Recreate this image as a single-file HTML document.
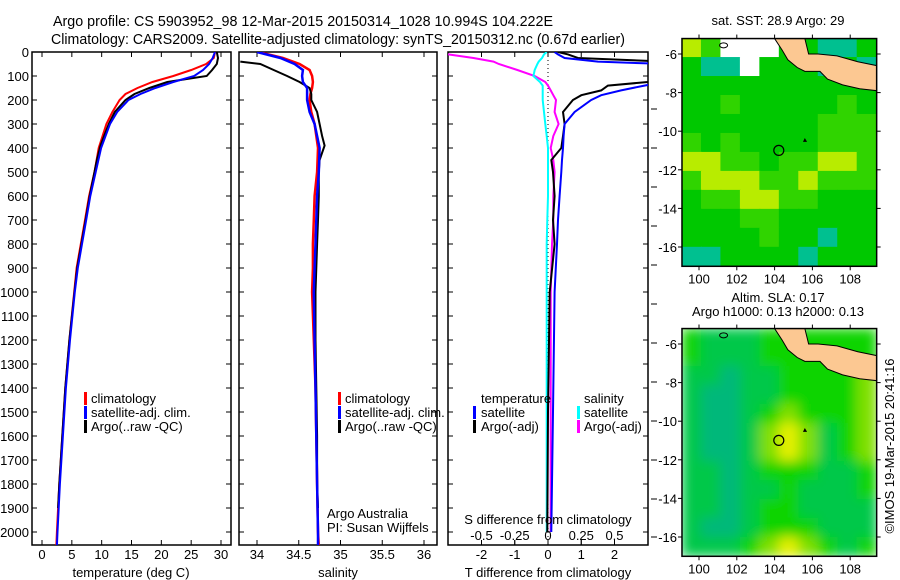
<!DOCTYPE html>
<html><head><meta charset="utf-8"><style>
html,body{margin:0;padding:0;background:#fff;}
svg{display:block;font-family:"Liberation Sans",sans-serif;}
</style></head><body>
<svg id="fig" width="900" height="580" viewBox="0 0 900 580" xmlns="http://www.w3.org/2000/svg">
<text x="53" y="26" font-size="15" textLength="500" lengthAdjust="spacingAndGlyphs">Argo profile: CS 5903952_98 12-Mar-2015 20150314_1028 10.994S 104.222E</text>
<text x="51" y="44" font-size="15" textLength="574" lengthAdjust="spacingAndGlyphs">Climatology: CARS2009. Satellite-adjusted climatology: synTS_20150312.nc (0.67d earlier)</text>
<g id="g"></g>
</svg>
<script>
// ---------- data ----------
const depthTicks = [0,100,200,300,400,500,600,700,800,900,1000,1100,1200,1300,1400,1500,1600,1700,1800,1900,2000];
const tempTicks = [0,5,10,15,20,25,30];
const salTicks = [34,34.5,35,35.5,36];
const salTickLabels = ["34","34.5","35","35.5","36"];
const tdiffTicks = [-2,-1,0,1,2];
const sdiffTicks = [-0.5,-0.25,0,0.25,0.5];
const sdiffTickLabels = ["-0.5","-0.25","0","0.25","0.5"];

const climDepth = [0,25,50,75,100,125,150,175,200,250,300,400,500,600,700,800,900,1000,1200,1400,1600,1800,2000,2058];
const climTemp  = [29.0,28.8,27.5,25,22,18.5,16,14,13,11.8,10.8,9.5,8.8,7.9,7.2,6.5,5.8,5.4,4.6,3.9,3.4,2.9,2.5,2.4];
const satTemp   = [29.0,28.6,28.0,27,25.5,22,19,16.5,14.5,12.6,11.4,9.9,9.0,8.1,7.4,6.7,6.0,5.5,4.7,4.0,3.5,3.0,2.6,2.5];
const climSal   = [34.02,34.31,34.51,34.63,34.66,34.67,34.66,34.64,34.63,34.65,34.69,34.73,34.72,34.69,34.68,34.67,34.67,34.66,34.68,34.70,34.71,34.72,34.73,34.74];
const satSal    = [34.0,34.28,34.45,34.55,34.54,34.55,34.60,34.60,34.60,34.63,34.69,34.75,34.74,34.72,34.71,34.70,34.69,34.68,34.69,34.70,34.71,34.72,34.73,34.73];

const argoDepth = [0,25,50,75,100,125,150,175,200,250,300,350,390,450,500,600,700,800,900,1000,1200,1400,1600,1800,1900];
const argoTemp  = [29.3,29.5,29.3,28.5,27.6,21,18,15.5,14,12.2,11.2,10.4,9.8,9.2,8.8,8.0,7.3,6.6,5.9,5.45,4.6,3.9,3.4,2.9,2.7];
const argoSalDepth = [40,50,75,100,125,150,175,200,250,300,350,390,450,500,600,700,800,900,1000,1200,1400,1600,1800,1900];
const argoSal   = [33.8,34.04,34.2,34.36,34.51,34.63,34.65,34.65,34.72,34.75,34.78,34.81,34.75,34.74,34.74,34.73,34.72,34.71,34.70,34.70,34.71,34.72,34.72,34.73];

const diffDepth = [0,10,25,40,50,75,100,125,140,160,180,200,250,300,350,400,450,500,600,700,800,1000,1500,2000];
const tdiffSat  = [0.2,0.3,0.5,1.5,3.5,4,4,3.5,2.9,2.2,1.6,1.3,0.8,0.5,0.47,0.45,0.42,0.4,0.35,0.3,0.27,0.2,0.15,0.1];
const tdiffArgo = [0.3,0.6,0.9,3.5,4,4,4,3,1.8,1.6,1.0,0.75,0.45,0.5,0.45,0.4,0.1,0.15,0.2,0.15,0.2,0.05,0.0,-0.02];
const sdiffSat  = [-0.01,-0.03,-0.045,-0.07,-0.08,-0.1,-0.11,-0.06,-0.04,-0.04,-0.04,-0.04,-0.03,-0.02,-0.01,0,0,0,0,-0.005,-0.01,-0.01,-0.01,-0.01];
const sdiffArgo = [-0.8,-0.75,-0.56,-0.41,-0.37,-0.23,-0.1,-0.02,0,0.02,0.04,0.06,0.05,0.08,0.04,0.02,0.04,0.05,0.04,0.04,0.03,0.02,0.02,0.02];

const lonTicks = [100,102,104,106,108];
const latTicks = [-6,-8,-10,-12,-14,-16];
const sstGrid = [
 [3,2,4,4,4,1,1,0,0,1],
 [1,0,0,4,1,1,1,0,1,0],
 [1,1,1,1,1,1,1,1,1,1],
 [1,1,2,1,1,1,1,1,2,1],
 [1,1,1,1,1,1,1,2,2,2],
 [2,1,2,1,1,1,1,2,2,2],
 [3,3,2,2,1,2,2,3,3,2],
 [2,3,3,3,2,2,3,2,2,2],
 [1,2,2,3,3,2,2,1,1,1],
 [1,1,1,2,2,1,1,1,1,1],
 [1,1,1,1,2,1,1,0,1,1],
 [0,0,1,1,1,1,0,1,1,1]];
const slaGrid = [
 [2,1,1,1,2,2,2,2,2,2],
 [2,1,1,1,2,2,2,2,2,2],
 [1,1,0,1,1,2,2,2,2,3],
 [1,0,0,1,1,2,2,2,2,3],
 [1,0,0,1,2,3,2,2,2,3],
 [1,0,0,1,3,4,3,1,2,3],
 [1,0,0,1,3,4,3,1,2,3],
 [1,1,0,1,2,2,2,1,1,2],
 [1,1,0,1,1,2,1,1,1,2],
 [1,1,0,1,2,2,1,1,1,1],
 [1,0,0,1,2,2,2,1,1,1],
 [1,1,1,2,3,4,3,2,1,2]];
const floatLon = 104.222, floatLat = -10.994;

// ---------- helpers ----------
const NS="http://www.w3.org/2000/svg";
const G=document.getElementById('g');
function el(tag,attrs,parent){const e=document.createElementNS(NS,tag);for(const k in attrs)e.setAttribute(k,attrs[k]);(parent||G).appendChild(e);return e;}
const yD = d => 52 + d*0.24;
const xT = t => 42 + t*5.967;
const xS = s => 257 + (s-34)*83.5;
const xTd = v => 548 + v*33.25;
const xSd = v => 548 + v*133;
const BOT = 545;

depthTicks.forEach(d=>{
  const t=el('text',{x:29,y:yD(d)+5,'font-size':13,'text-anchor':'end'});
  
  
  t.textContent=d;
});

function panel(x0,x1,name){
  const cp=el('clipPath',{id:'clip-'+name});
  el('rect',{x:x0,y:52,width:x1-x0,height:BOT-52},cp);
  const r=el('rect',{x:x0,y:52,width:x1-x0,height:BOT-52,fill:'none',stroke:'#000','stroke-width':1.5});
  
  
  depthTicks.forEach(d=>{
    el('line',{x1:x0,x2:x0+5,y1:yD(d),y2:yD(d),stroke:'#000'});
    el('line',{x1:x1,x2:x1-5,y1:yD(d),y2:yD(d),stroke:'#000'});
  });
  return 'url(#clip-'+name+')';
}
function line(xs,ds,fx,color,clip,name,w){
  const pts=xs.map((v,i)=>fx(v).toFixed(1)+','+yD(ds[i]).toFixed(1)).join(' ');
  const p=el('polyline',{points:pts,fill:'none',stroke:color,'stroke-width':w||2,'clip-path':clip});
  
  
}
function xticks(ticks,labels,fx,x0,x1,ly,name){
  ticks.forEach((v,i)=>{
    const x=fx(v);
    el('line',{x1:x,x2:x,y1:BOT,y2:BOT-5,stroke:'#000'});
    el('line',{x1:x,x2:x,y1:52,y2:57,stroke:'#000'});
    const t=el('text',{x:x,y:ly,'font-size':13,'text-anchor':'middle'});
    
    
    t.textContent=labels[i];
  });
}
function txt(x,y,s,name,size,anchor){
  const t=el('text',{x:x,y:y,'font-size':size||13,'text-anchor':anchor||'start'});
  
  
  t.textContent=s;return t;
}
function legBar(x,y,color,name){
  const r=el('rect',{x:x,y:y-11,width:3,height:13,fill:color});
  
  
}

// panel 1 temperature
const c1=panel(32,231,'temperature-panel');
xticks(tempTicks,tempTicks.map(String),xT,32,231,559,'temperature-tick-label');
line(climTemp,climDepth,xT,'#f00',c1,'temp-climatology-line');
line(argoTemp,argoDepth,xT,'#000',c1,'temp-argo-line');
line(satTemp,climDepth,xT,'#00f',c1,'temp-satellite-line');
txt(131,577,'temperature (deg C)','temperature-axis-title',13,'middle');
legBar(84,403,'#f00','legend-climatology-swatch');txt(91,403,'climatology','legend-climatology');
legBar(84,417,'#00f','legend-satellite-swatch');txt(91,417,'satellite-adj. clim.','legend-satellite');
legBar(84,431,'#000','legend-argo-swatch');txt(91,431,'Argo(..raw -QC)','legend-argo');

// panel 2 salinity
const c2=panel(239,437,'salinity-panel');
xticks(salTicks,salTickLabels,xS,239,437,559,'salinity-tick-label');
line(climSal,climDepth,xS,'#f00',c2,'sal-climatology-line',2.5);
line(argoSal,argoSalDepth,xS,'#000',c2,'sal-argo-line');
line(satSal,climDepth,xS,'#00f',c2,'sal-satellite-line',2.5);
txt(338,577,'salinity','salinity-axis-title',13,'middle');
legBar(338,403,'#f00','legend2-climatology-swatch');txt(345,403,'climatology','legend2-climatology');
legBar(338,417,'#00f','legend2-satellite-swatch');txt(345,417,'satellite-adj. clim.','legend2-satellite');
legBar(338,431,'#000','legend2-argo-swatch');txt(345,431,'Argo(..raw -QC)','legend2-argo');
txt(327,518,'Argo Australia','credit-institution');
txt(327,532,'PI: Susan Wijffels','credit-pi');

// panel 3 differences
const c3=panel(448,648,'difference-panel');
const zl=el('line',{x1:548,x2:548,y1:52,y2:BOT,stroke:'#000','stroke-dasharray':'1,3'});

xticks(tdiffTicks,tdiffTicks.map(String),xTd,448,648,559,'tdiff-tick-label');
line(sdiffArgo,diffDepth,xSd,'#f0f',c3,'sdiff-argo-line');
line(sdiffSat,diffDepth,xSd,'#0ff',c3,'sdiff-satellite-line');
line(tdiffArgo,diffDepth,xTd,'#000',c3,'tdiff-argo-line');
line(tdiffSat,diffDepth,xTd,'#00f',c3,'tdiff-satellite-line');
sdiffTicks.forEach((v,i)=>{
  el('line',{x1:xSd(v),x2:xSd(v),y1:BOT,y2:BOT-5,stroke:'#000'});
  txt(xSd(v),540,sdiffTickLabels[i],'sdiff-tick-label',13,'middle');
});
txt(548,524,'S difference from climatology','sdiff-axis-title',13,'middle');
txt(548,577,'T difference from climatology','tdiff-axis-title',13,'middle');
txt(481,403,'temperature','legend3-temperature-header');
txt(584,403,'salinity','legend3-salinity-header');
legBar(473,417,'#00f','legend3-tsat-swatch');txt(481,417,'satellite','legend3-tsat');
legBar(473,431,'#000','legend3-targo-swatch');txt(481,431,'Argo(-adj)','legend3-targo');
legBar(577,417,'#0ff','legend3-ssat-swatch');txt(584,417,'satellite','legend3-ssat');
legBar(577,431,'#f0f','legend3-sargo-swatch');txt(584,431,'Argo(-adj)','legend3-sargo');
[421,460,499,537,382,343,304,265,226,187,148,109].forEach(y=>el('line',{x1:651,x2:657,y1:y,y2:y,stroke:'#000'}));

// ---------- maps ----------
const LON0=99.1,LON1=109.4,LAT0=-5.2,LAT1=-17;
function makeMap(oy,grid,colors,name,blur){
  const X=lon=>699+(lon-100)*18.9;
  const Y=lat=>oy+54+(-6-lat)*19.3;
  const x0=X(LON0),x1=X(LON1),y0=Y(LAT0),y1=Y(LAT1);
  const cp=el('clipPath',{id:'clip-'+name});el('rect',{x:x0,y:y0,width:x1-x0,height:y1-y0},cp);
  const grp=el('g',{'clip-path':'url(#clip-'+name+')'});
  const inner=el('g',blur?{filter:'url(#blur)'}:{},grp);
  const nr=grid.length,nc=grid[0].length;
  const cw=(LON1-LON0)/nc,ch=(LAT0-LAT1)/nr;
  grid.forEach((row,ri)=>row.forEach((v,ci)=>{
    const r=el('rect',{x:X(LON0+ci*cw)-0.5,y:Y(LAT0-ri*ch)-0.5,width:cw*18.9+1,height:ch*19.3+1,fill:colors[v]},inner);
    
    
  }));
  const land=[[104.0,-5.2],[104.4,-5.8],[104.7,-6.3],[105.2,-6.7],[105.6,-6.9],[106.4,-6.9],[106.8,-7.3],[107.6,-7.6],[108.5,-7.8],[109.4,-7.9],[109.4,-6.6],[108.4,-6.4],[107.3,-6.1],[106.3,-6.0],[105.8,-6.0],[105.6,-5.2]];
  const lp=el('polygon',{points:land.map(p=>X(p[0])+','+Y(p[1])).join(' '),fill:'#fcc892',stroke:'#000','stroke-width':1},grp);
  
  el('ellipse',{cx:X(101.3),cy:Y(-5.55),rx:4,ry:2.5,fill:'none',stroke:'#000'},grp);
  el('polygon',{points:[X(105.6),Y(-10.35),X(105.5),Y(-10.55),X(105.72),Y(-10.55)].join(' '),fill:'#000'},grp);
  const fr=el('rect',{x:x0,y:y0,width:x1-x0,height:y1-y0,fill:'none',stroke:'#000','stroke-width':1.5});
  
  const mk=el('circle',{cx:X(floatLon),cy:Y(floatLat),r:5,fill:'none',stroke:'#000','stroke-width':1.2});
  
  lonTicks.forEach(l=>{
    el('line',{x1:X(l),x2:X(l),y1:y1,y2:y1+4,stroke:'#000'});
    el('line',{x1:X(l),x2:X(l),y1:y0,y2:y0-4,stroke:'#000'});
    txt(X(l),y1+17,String(l),name+'-lon-label',13,'middle');
  });
  latTicks.forEach(l=>{
    el('line',{x1:x0,x2:x0-4,y1:Y(l),y2:Y(l),stroke:'#000'});
    el('line',{x1:x1,x2:x1+4,y1:Y(l),y2:Y(l),stroke:'#000'});
    txt(x0-5,Y(l)+5,String(l),name+'-lat-label',13,'end');
  });
}
const defs=el('defs',{});
const f=el('filter',{id:'blur',x:'-5%',y:'-5%',width:'110%',height:'110%'},defs);
el('feGaussianBlur',{stdDeviation:6},f);
makeMap(0,sstGrid,['#00c090','#00c800','#30d400','#b8ec00','#ffffff'],'sst-map',false);
makeMap(290,slaGrid,['#00b87a','#00c848','#10d400','#80e000','#e4f000'],'sla-map',true);
txt(778,25,'sat. SST: 28.9 Argo: 29','sst-map-title',13,'middle');
txt(778,302,'Altim. SLA: 0.17','sla-map-title',13,'middle');
txt(778,316,'Argo h1000: 0.13 h2000: 0.13','sla-map-subtitle',13,'middle');
const cr=txt(0,0,'©IMOS 19-Mar-2015 20:41:16','copyright',13,'middle');
cr.setAttribute('transform','translate(894,446) rotate(-90)');
</script>
</body></html>
